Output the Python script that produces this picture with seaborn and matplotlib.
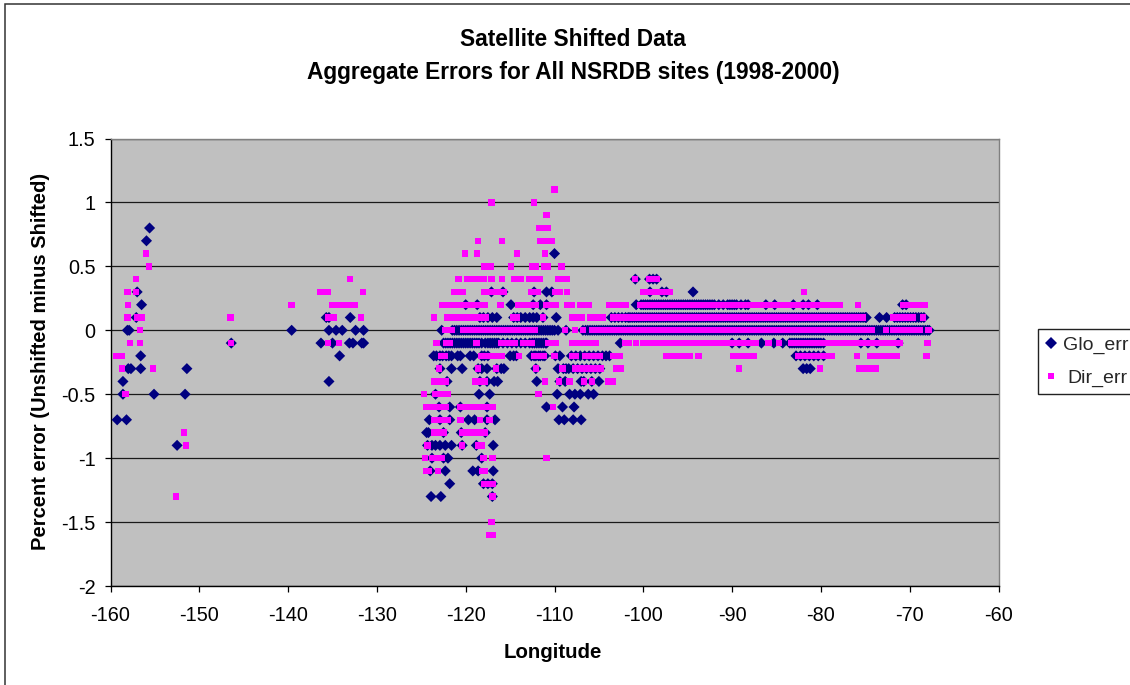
import pandas as pd
import matplotlib
matplotlib.use("Agg")
import matplotlib.pyplot as plt
from matplotlib.patches import Rectangle
import seaborn as sns

# values, one list of longitudes per error level
glo_levels = [0.8, 0.7, 0.6, 0.4, 0.3, 0.2, 0.1, 0.0, -0.1, -0.2, -0.3, -0.4, -0.5,
              -0.6, -0.7, -0.8, -0.9, -1.0, -1.1, -1.2, -1.3]
glo_lons = [
    [-155.6],
    [-155.95],
    [-110.0],
    [-100.9, -99.3, -98.9, -98.5],
    [-157.0, -117.1, -115.8, -112.3, -110.9, -110.3, -99.25, -97.9, -97.4, -94.4],
    [-156.5, -120.0, -118.7, -114.9, -112.4, -111.6, -110.9, -100.8, -100.25, -100.0, -99.75, -99.5,
     -99.25, -99.0, -98.75, -98.5, -98.25, -98.0, -97.75, -97.5, -97.25, -97.0, -96.75, -96.5, -96.25,
     -96.0, -95.75, -95.5, -95.25, -95.0, -94.75, -94.5, -94.25, -94.0, -93.75, -93.5, -93.25, -93.0,
     -92.75, -92.5, -92.25, -92.0, -91.5, -91.0, -90.5, -90.25, -90.0, -89.75, -89.5, -89.0, -88.5,
     -88.2, -86.2, -85.2, -83.1, -82.0, -81.4, -80.4, -70.8, -70.4],
    [-157.1, -135.7, -135.4, -133.0, -118.4, -118.0, -117.5, -117.0, -116.5, -114.6, -114.2, -113.8,
     -113.3, -112.8, -112.4, -112.0, -111.3, -109.8, -103.6, -103.2, -102.8, -102.4, -102.0, -101.7,
     -101.5, -101.25, -101.0, -100.75, -100.5, -100.25, -100.0, -99.75, -99.5, -99.25, -99.0, -98.75,
     -98.5, -98.25, -98.0, -97.75, -97.5, -97.25, -97.0, -96.75, -96.5, -96.25, -96.0, -95.75, -95.5,
     -95.25, -95.0, -94.75, -94.5, -94.25, -94.0, -93.75, -93.5, -93.25, -93.0, -92.75, -92.5, -92.25,
     -92.0, -91.75, -91.5, -91.25, -91.0, -90.75, -90.5, -90.25, -90.0, -89.75, -89.5, -89.25, -89.0,
     -88.75, -88.5, -88.25, -88.0, -87.75, -87.5, -87.25, -87.0, -86.75, -86.5, -86.25, -86.0, -85.75,
     -85.5, -85.25, -85.0, -84.75, -84.5, -84.25, -84.0, -83.75, -83.5, -83.25, -83.0, -82.75, -82.5,
     -82.25, -82.0, -81.75, -81.5, -81.25, -81.0, -80.75, -80.5, -80.25, -80.0, -79.75, -79.5, -79.25,
     -79.0, -78.75, -78.5, -78.25, -78.0, -77.75, -77.5, -77.25, -77.0, -76.75, -76.5, -76.25, -76.0,
     -75.75, -75.5, -75.25, -75.0, -74.9, -73.4, -72.6, -71.7, -71.4, -71.1, -70.8, -70.5, -70.2,
     -69.9, -69.6, -69.3, -69.0, -68.7, -68.4],
    [-158.1, -157.9, -139.6, -135.4, -134.6, -133.9, -132.4, -131.5, -122.7, -121.5, -121.25, -121.0,
     -120.75, -120.5, -120.25, -120.0, -119.75, -119.5, -119.25, -119.0, -118.75, -118.5, -118.25, -118.0,
     -117.75, -117.5, -117.25, -117.0, -116.75, -116.5, -116.25, -116.0, -115.75, -115.5, -115.25, -115.0,
     -114.75, -114.5, -114.25, -114.0, -113.75, -113.5, -113.25, -113.0, -112.75, -112.5, -112.25, -112.0,
     -111.75, -111.5, -111.25, -111.0, -110.75, -110.5, -110.25, -110.0, -109.6, -108.7, -106.8, -106.5,
     -106.25, -106.0, -105.75, -105.5, -105.25, -105.0, -104.75, -104.5, -104.25, -104.0, -103.75, -103.5,
     -103.25, -103.0, -102.75, -102.5, -102.25, -102.0, -101.75, -101.5, -101.25, -101.0, -100.75, -100.5,
     -100.25, -100.0, -99.75, -99.5, -99.25, -99.0, -98.75, -98.5, -98.25, -98.0, -97.75, -97.5, -97.25,
     -97.0, -96.75, -96.5, -96.25, -96.0, -95.75, -95.5, -95.25, -95.0, -94.75, -94.5, -94.25, -94.0,
     -93.75, -93.5, -93.25, -93.0, -92.75, -92.5, -92.25, -92.0, -91.75, -91.5, -91.25, -91.0, -90.75,
     -90.5, -90.25, -90.0, -89.75, -89.5, -89.25, -89.0, -88.75, -88.5, -88.25, -88.0, -87.75, -87.5,
     -87.25, -87.0, -86.75, -86.5, -86.25, -86.0, -85.75, -85.5, -85.25, -85.0, -84.75, -84.5, -84.25,
     -84.0, -83.75, -83.5, -83.25, -83.0, -82.75, -82.5, -82.25, -82.0, -81.75, -81.5, -81.25, -81.0,
     -80.75, -80.5, -80.25, -80.0, -79.75, -79.5, -79.25, -79.0, -78.75, -78.5, -78.25, -78.0, -77.75,
     -77.5, -77.25, -77.0, -76.75, -76.5, -76.25, -76.0, -75.75, -75.5, -75.25, -75.0, -74.75, -74.5,
     -74.25, -74.0, -73.75, -73.5, -73.25, -73.0, -72.75, -72.5, -72.25, -72.0, -71.75, -71.5, -71.25,
     -71.0, -70.75, -70.5, -70.25, -70.0, -69.75, -69.5, -69.25, -69.0, -68.75, -68.5, -68.25, -68.0, -67.8],
    [-146.4, -136.3, -135.0, -133.1, -132.7, -131.7, -131.5, -122.5, -122.25, -122.0, -121.75, -121.5,
     -121.25, -121.0, -120.75, -120.5, -120.25, -120.0, -119.75, -119.5, -119.25, -119.0, -118.75, -118.5,
     -118.2, -117.8, -117.5, -117.25, -117.0, -116.75, -116.5, -116.3, -115.8, -115.3, -114.8, -114.3,
     -113.8, -113.3, -112.8, -112.5, -112.25, -112.0, -111.75, -111.5, -111.25, -111.0, -110.9, -102.6,
     -90.0, -89.2, -88.2, -86.7, -85.3, -84.3, -83.5, -83.25, -83.0, -82.75, -82.5, -82.25, -82.0, -81.75,
     -81.5, -81.25, -81.0, -80.75, -80.5, -80.25, -80.0, -79.7, -75.5, -74.7, -73.7, -71.3],
    [-156.6, -134.2, -123.6, -123.3, -122.9, -122.6, -122.2, -121.9, -121.6, -120.9, -120.6, -119.5,
     -119.1, -118.2, -117.9, -117.5, -115.0, -114.6, -114.3, -112.6, -112.3, -112.1, -111.8, -111.6,
     -111.3, -111.1, -109.9, -109.4, -108.1, -107.6, -107.1, -106.6, -106.1, -105.6, -105.1, -104.6,
     -104.2, -103.8, -82.8, -82.3, -81.8, -81.3, -80.8, -80.3, -79.7],
    [-158.0, -157.7, -156.6, -151.4, -122.9, -121.6, -120.4, -118.6, -118.2, -117.6, -116.5, -116.0,
     -115.7, -112.1, -109.6, -109.0, -108.7, -108.4, -107.9, -107.4, -106.9, -106.4, -105.9, -105.4,
     -104.9, -82.0, -81.6, -81.2],
    [-158.6, -135.4, -122.1, -118.4, -117.6, -116.8, -116.4, -112.0, -109.4, -108.8, -107.0, -106.7, -105.8, -105.0],
    [-158.6, -155.1, -151.6, -123.4, -118.5, -117.3, -109.7, -108.3, -107.7, -107.1, -106.2, -105.6],
    [-123.0, -121.8, -120.6, -117.6, -110.9, -109.1, -107.8],
    [-159.25, -158.2, -124.1, -122.9, -121.8, -119.7, -119.0, -117.6, -116.7, -109.5, -108.9, -107.9, -107.0],
    [-124.4, -124.2, -122.5, -120.5, -117.8],
    [-152.5, -124.3, -123.8, -123.4, -122.9, -122.3, -121.6, -120.4, -118.8, -116.9],
    [-123.8, -122.5, -122.0, -118.2],
    [-124.0, -122.3, -119.2, -118.6, -116.9],
    [-121.8, -118.0, -117.5, -117.0],
    [-123.9, -122.8, -117.0],
]

dir_levels = [1.1, 1.0, 0.9, 0.8, 0.7, 0.6, 0.5, 0.4, 0.3, 0.2, 0.1, 0.0, -0.1, -0.2, -0.3,
              -0.4, -0.5, -0.6, -0.7, -0.8, -0.9, -1.0, -1.1, -1.2, -1.3, -1.5, -1.6]
dir_lons = [
    [-110.0],
    [-117.1, -112.3],
    [-110.9],
    [-111.7, -111.25, -110.8],
    [-118.6, -115.9, -111.6, -110.9, -110.3],
    [-156.0, -120.1, -118.7, -114.2, -111.1],
    [-155.7, -117.9, -117.2, -114.9, -112.5, -112.1, -111.2, -110.8, -109.2],
    [-157.1, -133.0, -120.8, -119.8, -119.1, -118.5, -118.0, -117.1, -115.9, -114.5, -113.8, -112.8,
     -112.2, -111.7, -109.6, -109.2, -108.6, -100.9, -99.3, -98.9, -98.5],
    [-158.1, -157.1, -136.4, -135.9, -135.5, -131.6, -121.3, -120.7, -120.3, -117.9, -117.3, -116.7,
     -116.1, -115.7, -112.6, -112.3, -111.9, -109.9, -109.4, -108.6, -100.0, -99.5, -99.0, -98.5,
     -98.0, -97.5, -97.0, -81.9],
    [-158.0, -139.6, -135.0, -134.5, -134.0, -133.2, -132.8, -132.5, -122.6, -122.0, -121.4, -120.8,
     -120.3, -119.7, -118.9, -118.4, -117.8, -116.1, -114.1, -113.5, -112.7, -112.1, -110.9, -110.3,
     -109.8, -108.6, -108.1, -107.1, -106.6, -106.1, -103.8, -103.2, -102.6, -102.0, -100.4, -100.0,
     -99.5, -99.0, -98.5, -98.0, -97.5, -97.0, -96.5, -96.0, -95.5, -95.0, -94.5, -94.0, -93.5,
     -93.0, -92.5, -92.0, -91.5, -91.0, -90.5, -90.0, -89.5, -89.0, -88.5, -88.2, -87.6, -87.1,
     -86.6, -86.1, -85.6, -85.1, -84.6, -84.2, -84.0, -83.5, -83.0, -82.5, -82.0, -81.5, -81.0,
     -80.5, -80.0, -79.5, -79.0, -78.5, -77.9, -75.8, -70.7, -70.2, -69.7, -69.2, -68.7, -68.3],
    [-158.1, -157.0, -156.5, -146.5, -135.5, -134.8, -131.8, -123.6, -122.1, -121.6, -121.0, -120.4,
     -119.9, -119.3, -118.9, -118.2, -117.7, -114.6, -114.2, -111.3, -108.0, -107.5, -106.9, -106.0,
     -105.4, -104.6, -103.4, -102.8, -102.3, -101.8, -101.3, -100.8, -100.3, -99.8, -99.3, -98.8,
     -98.3, -97.8, -97.3, -96.8, -96.3, -95.8, -95.3, -94.8, -94.3, -93.8, -93.3, -92.8, -92.3,
     -91.8, -91.3, -90.8, -90.3, -89.8, -89.3, -88.8, -88.3, -87.8, -87.3, -86.8, -86.3, -85.8,
     -85.3, -84.8, -84.3, -83.8, -83.3, -82.8, -82.3, -81.8, -81.3, -80.8, -80.3, -79.8, -79.3,
     -78.8, -78.3, -77.8, -77.3, -76.8, -76.3, -75.8, -75.3, -71.9, -71.4, -70.9, -70.4, -69.9,
     -69.6, -68.5],
    [-156.7, -122.3, -121.6, -120.3, -119.7, -119.1, -118.6, -118.0, -117.2, -116.7, -116.2, -115.7,
     -115.2, -114.7, -114.2, -113.7, -113.2, -112.7, -112.2, -108.8, -107.7, -106.8, -105.8, -105.3,
     -104.8, -104.3, -103.8, -103.3, -102.8, -102.3, -101.8, -101.3, -100.8, -100.3, -99.8, -99.3,
     -98.8, -98.3, -97.8, -97.3, -96.8, -96.3, -95.8, -95.3, -94.8, -94.3, -93.8, -93.3, -92.8,
     -92.3, -91.8, -91.3, -90.8, -90.3, -89.8, -89.3, -88.8, -88.3, -87.8, -87.3, -86.8, -86.3,
     -85.8, -85.3, -84.8, -84.3, -83.8, -83.3, -82.8, -82.3, -81.8, -81.3, -80.8, -80.3, -79.8,
     -79.3, -78.8, -78.3, -77.8, -77.3, -76.8, -76.3, -75.8, -75.3, -74.8, -74.3, -72.7, -71.9,
     -71.4, -70.9, -70.4, -69.9, -69.4, -68.9, -67.9],
    [-157.8, -156.7, -146.4, -135.5, -134.3, -123.3, -122.2, -121.8, -118.8, -116.0, -115.5, -115.0,
     -114.5, -113.5, -113.1, -112.6, -110.7, -110.2, -109.8, -108.0, -107.3, -106.8, -106.3, -105.8,
     -105.3, -102.0, -101.6, -100.8, -100.0, -99.5, -99.0, -98.5, -98.0, -97.5, -97.0, -96.5, -96.0,
     -95.5, -95.0, -94.5, -94.0, -93.5, -93.0, -92.5, -92.0, -91.6, -91.1, -90.6, -90.1, -89.6,
     -89.3, -88.9, -88.4, -87.9, -87.3, -85.9, -84.7, -83.4, -82.9, -82.4, -81.9, -81.4, -80.9,
     -80.4, -79.9, -79.4, -78.9, -78.4, -77.9, -77.4, -76.9, -76.4, -75.9, -75.4, -74.9, -74.4,
     -73.9, -73.4, -72.9, -72.4, -71.9, -71.4, -71.1, -68.0],
    [-159.4, -158.7, -122.8, -122.3, -118.3, -117.7, -117.2, -116.7, -116.2, -115.9, -114.0, -112.3,
     -111.8, -111.2, -110.0, -108.0, -107.6, -106.5, -106.0, -105.3, -104.9, -103.4, -103.0, -102.6,
     -102.6, -97.4, -96.9, -96.4, -95.9, -95.4, -94.8, -93.8, -89.9, -89.4, -88.9, -88.4, -87.9,
     -87.6, -82.6, -82.1, -81.6, -81.1, -80.6, -80.1, -79.6, -79.1, -78.8, -75.9, -74.5, -74.0,
     -73.5, -73.0, -72.5, -72.0, -71.5, -68.1],
    [-158.7, -155.2, -123.0, -118.6, -116.6, -112.1, -109.1, -107.7, -107.2, -106.7, -106.2, -105.7,
     -105.3, -104.8, -103.0, -102.5, -89.2, -80.1, -75.7, -75.0, -74.3, -73.8],
    [-123.5, -123.1, -122.7, -122.2, -118.9, -118.4, -117.9, -111.1, -109.5, -108.3, -106.7, -105.8,
     -103.9, -103.4],
    [-158.3, -124.7, -123.4, -123.0, -122.5, -122.0, -111.8],
    [-124.4, -124.0, -123.6, -123.2, -122.8, -122.2, -120.6, -120.1, -119.6, -119.1, -118.6, -118.1,
     -117.6, -117.0, -110.2],
    [-123.5, -123.0, -122.5, -122.0, -120.6, -118.4, -117.3],
    [-151.7, -123.5, -123.0, -122.5, -120.4, -119.8, -119.3, -118.8, -118.2, -117.8],
    [-151.5, -124.3, -120.4, -118.6, -118.2],
    [-124.6, -123.8, -123.2, -122.7, -118.0, -117.0, -110.9],
    [-124.5, -124.2, -123.1, -118.2, -117.8],
    [-117.9, -117.5, -117.0],
    [-152.6, -117.0],
    [-117.1],
    [-117.4, -117.0],
]

x_ticks = [-160, -150, -140, -130, -120, -110, -100, -90, -80, -70, -60]
y_ticks = [-2, -1.5, -1, -0.5, 0, 0.5, 1, 1.5]
y_tick_labels = ["-2", "-1.5", "-1", "-0.5", "0", "0.5", "1", "1.5"]

# long form table for seaborn
rows = []
for level, lons in zip(glo_levels, glo_lons):
    for lon in lons:
        rows.append(("Glo_err", lon, level))
for level, lons in zip(dir_levels, dir_lons):
    for lon in lons:
        rows.append(("Dir_err", lon, level))
df = pd.DataFrame(rows, columns=["series", "lon", "err"])

sns.set_theme(style="white")
plt.rcParams["font.family"] = ["Liberation Sans", "DejaVu Sans"]
plt.rcParams["axes.unicode_minus"] = False

W, H = 1130, 685
fig = plt.figure(figsize=(W / 100, H / 100), dpi=100)
ax = fig.add_axes([110.5 / W, 1 - 586 / H, 888 / W, 447.5 / H])
ax.set_facecolor("#C0C0C0")

# outer chart frame, runs off the right and bottom of the picture
fig.patches.append(Rectangle((4.5 / W, -0.05), 1.2, 1.05 - 4 / H, transform=fig.transFigure,
                             fill=False, edgecolor="#333333", linewidth=1.1))

sns.scatterplot(data=df, x="lon", y="err", hue="series", style="series",
                hue_order=["Glo_err", "Dir_err"], style_order=["Glo_err", "Dir_err"],
                palette={"Glo_err": "#000080", "Dir_err": "#FF00FF"},
                markers={"Glo_err": "D", "Dir_err": "s"},
                size="series", sizes={"Glo_err": 32, "Dir_err": 21},
                linewidth=0, ax=ax, zorder=3, clip_on=False)

ax.set_xlim(-160, -60)
ax.set_ylim(-2, 1.5)
ax.set_xticks(x_ticks)
ax.set_yticks(y_ticks)
ax.set_yticklabels(y_tick_labels)
ax.set_axisbelow(True)
ax.grid(axis="y", color="#1a1a1a", linewidth=0.9)
ax.grid(axis="x", visible=False)
ax.tick_params(axis="both", length=4.3, width=0.9, color="black", labelsize=14.3, pad=5,
               left=True, bottom=True, labelcolor="black")
ax.tick_params(axis="x", pad=10)
ax.tick_params(axis="y", pad=6.5)

for side in ["left", "bottom"]:
    ax.spines[side].set_color("black")
    ax.spines[side].set_linewidth(1.0)
for side in ["top", "right"]:
    ax.spines[side].set_color("#808080")
    ax.spines[side].set_linewidth(1.0)

ax.set_xlabel("")
ax.set_ylabel("")
fig.text(553 / W, 1 - 652 / H, "Longitude", ha="center", va="center", fontsize=14.7,
         fontweight="bold", color="black")
fig.text(41 / W, 1 - 361 / H, "Percent error (Unshifted minus Shifted)", ha="center", va="center",
         rotation=90, fontsize=14.5, fontweight="bold", color="black")
fig.text(573 / W, 1 - 39 / H, "Satellite Shifted Data", ha="center", va="center", fontsize=16.4,
         fontweight="bold", color="black")
fig.text(573 / W, 1 - 73 / H, "Aggregate Errors for All NSRDB sites (1998-2000)", ha="center",
         va="center", fontsize=16.4, fontweight="bold", color="black")

# legend box goes off the right edge like the original
fig.patches.append(Rectangle((1037.5 / W, 1 - 394 / H), 0.2, 65 / H, transform=fig.transFigure,
                             facecolor="white", edgecolor="#222222", linewidth=1.0, zorder=-1))
handles, labels = ax.get_legend_handles_labels()
leg = ax.legend(handles, labels, loc="center left", bbox_to_anchor=(1044 / W, 1 - 361.5 / H),
                bbox_transform=fig.transFigure, frameon=False, fontsize=14.0, borderpad=0,
                borderaxespad=0, labelspacing=0.8, handletextpad=0.3, handlelength=0.7,
                title=None)
leg.get_texts()[1].set_position((4, 0))

fig.savefig("out.png", dpi=100)
